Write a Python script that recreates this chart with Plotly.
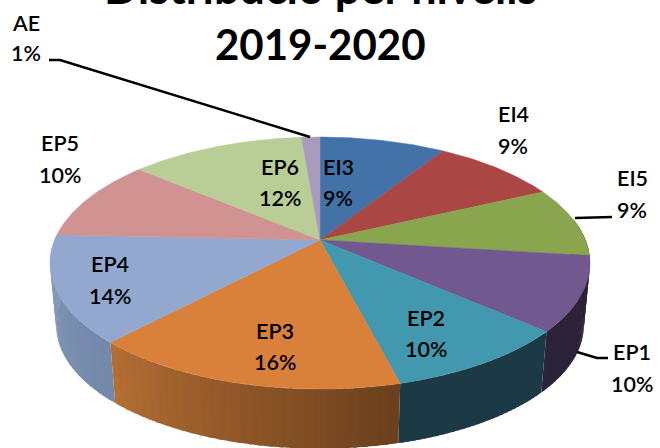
import numpy as np
import plotly.graph_objects as go

# values estimated from the angles in the picture, labels as printed
levels = ["EI3", "EI4", "EI5", "EP1", "EP2", "EP3", "EP4", "EP5", "EP6", "AE"]
shares = [9, 9, 9, 9.5, 9.5, 16, 13.7, 10.49, 12.49, 1.32]
percent_labels = ["9%", "9%", "9%", "10%", "10%", "16%", "14%", "10%", "12%", "1%"]

top_colors = ["#4372a8", "#aa4644", "#89a54e", "#71588f", "#4198af",
              "#d9803a", "#92a8cf", "#d19392", "#b9cd96", "#a99bbd"]
# wall colour at the left and at the right end of each slice's side
wall_colors = {
    "EI5": ((46, 36, 57), (46, 36, 57)),
    "EP1": ((46, 36, 57), (44, 34, 55)),
    "EP2": ((27, 58, 70), (27, 58, 70)),
    "EP3": ((180, 110, 52), (108, 64, 30)),
    "EP4": ((136, 155, 190), (116, 136, 170)),
}

# label centres in page pixels: x, y of name, y of percentage
label_pos = {
    "EI3": (338, 167, 198), "EI4": (513, 114, 146), "EI5": (632, 178, 210),
    "EP1": (632, 352, 384), "EP2": (426, 318, 349), "EP3": (275, 331, 362),
    "EP4": (110, 264, 296), "EP5": (60, 143, 175), "EP6": (280, 167, 198),
    "AE": (26, 23, 53),
}
leaders = [
    ([49, 60, 310], [60, 60, 137]),
    ([575, 612], [218, 217]),
    ([577, 597, 608], [352, 358, 358]),
]

# the tilted disc, as a perspective view of a unit circle
CX, CY = 320, 240
RX, RY = 265.4, 121.8
TILT = 0.183
WALL_SCALE, WALL_Y = 0.977, 303


def project(angle, cy=CY, scale=1.0):
    u, v = np.sin(angle), -np.cos(angle)
    w = 1 - TILT * v
    return CX + scale * RX * u / w, cy + scale * RY * v / w


def rgb(c):
    return "rgb(%d,%d,%d)" % tuple(c)


fig = go.Figure()
edges = np.cumsum([0] + shares) / sum(shares) * 2 * np.pi

# side walls first, the top face goes over them
for i, name in enumerate(levels):
    if name not in wall_colors:
        continue
    a0 = max(edges[i], np.radians(80))
    a1 = min(edges[i + 1], np.radians(285))
    left, right = wall_colors[name]
    n = 30
    cuts = np.linspace(a0, a1, n + 1)
    for k in range(n):
        t = k / (n - 1)
        # angle runs clockwise, so on the front the screen's right comes first
        col = [right[j] + (left[j] - right[j]) * t for j in range(3)]
        # strips overlap the next one a little so no seams show
        end = min(cuts[k + 1] + 0.012, a1)
        a = np.linspace(cuts[k], end, 4)
        x_top, y_top = project(a)
        x_bot, y_bot = project(a[::-1], WALL_Y, WALL_SCALE)
        fig.add_trace(go.Scatter(
            x=np.r_[x_top, x_bot], y=np.r_[y_top, y_bot],
            mode="none", fill="toself", fillcolor=rgb(col), hoverinfo="skip"))

for i, name in enumerate(levels):
    a = np.linspace(edges[i], edges[i + 1], 60)
    x, y = project(a)
    fig.add_trace(go.Scatter(
        x=np.r_[CX, x, CX], y=np.r_[CY, y, CY],
        mode="lines", fill="toself", fillcolor=top_colors[i],
        line=dict(color=top_colors[i], width=0.5),
        name=name, hoverinfo="name"))

for lx, ly in leaders:
    fig.add_trace(go.Scatter(x=lx, y=ly, mode="lines",
                             line=dict(color="black", width=2.4), hoverinfo="skip"))

annotations = []
for name, pct in zip(levels, percent_labels):
    x, y1, y2 = label_pos[name]
    for text, y in ((name, y1), (pct, y2)):
        annotations.append(dict(x=x, y=y, text=text, showarrow=False,
                                xanchor="center", yanchor="middle",
                                font=dict(family="Lato", size=21.5, color="black", weight=600)))
# first title line runs off the top of the page, so it sits in paper coordinates
for text, y, size in (("<b>Distribució per nivells</b>", -13, 45), ("<b>2019-2020</b>", 44, 42)):
    annotations.append(dict(xref="paper", yref="paper", x=320 / 660, y=1 - y / 448,
                            text=text, showarrow=False,
                            xanchor="center", yanchor="middle",
                            font=dict(family="Lato", size=size, color="black")))

fig.update_layout(
    width=660, height=448,
    margin=dict(l=0, r=0, t=0, b=0),
    paper_bgcolor="white", plot_bgcolor="white",
    showlegend=False,
    xaxis=dict(range=[0, 660], visible=False, fixedrange=True),
    yaxis=dict(range=[448, 0], visible=False, fixedrange=True),
    annotations=annotations,
)

fig.write_html("out.html", config={"displayModeBar": False},
               post_script="document.body.style.margin='0';document.body.style.overflow='hidden';")
